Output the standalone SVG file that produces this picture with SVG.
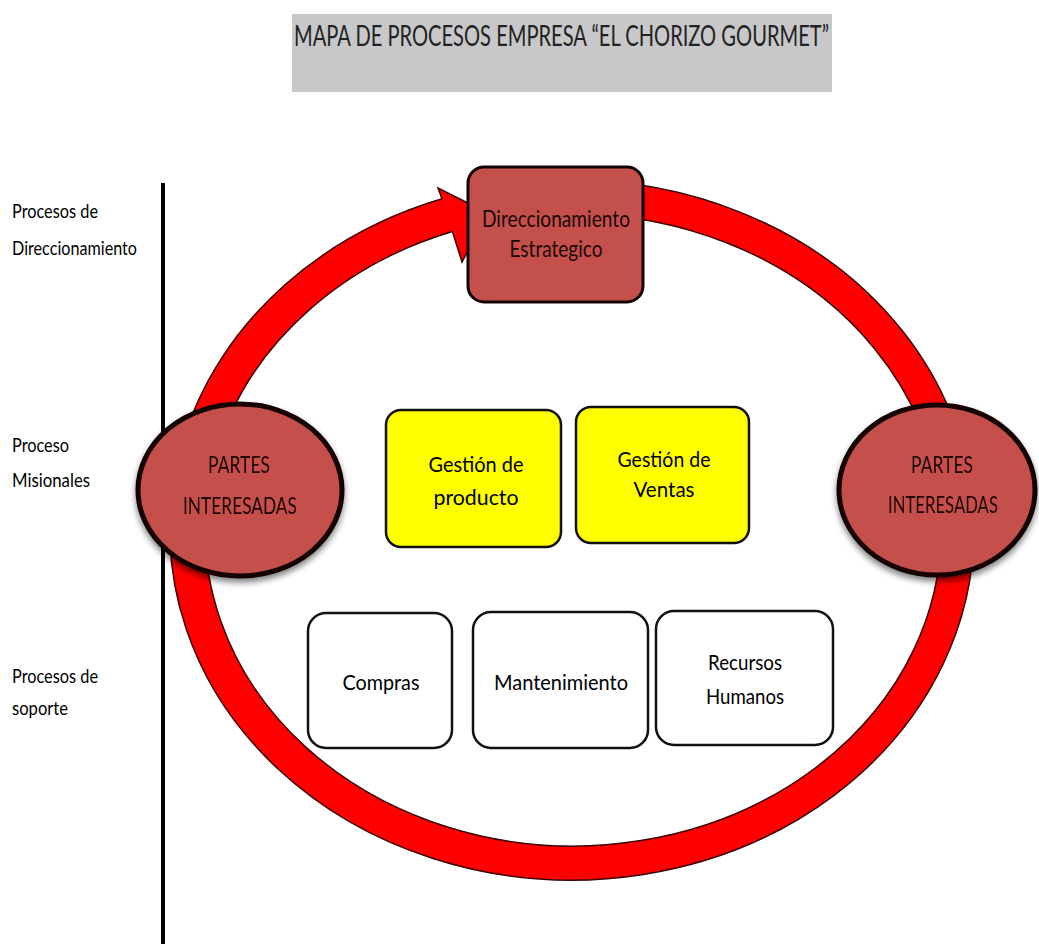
<svg xmlns="http://www.w3.org/2000/svg" width="1039" height="944" viewBox="0 0 1039 944">
  <style>
    .lbl { font-family: Lato, "Liberation Sans", sans-serif; font-size: 19px; fill: #000; }
    .txt { font-family: Lato, "Liberation Sans", sans-serif; font-size: 22px; fill: #000; text-anchor: middle; }
    .rtxt { font-family: Lato, "Liberation Sans", sans-serif; font-size: 23px; fill: #200505; text-anchor: middle; }
    .red { fill: #c4504c; stroke: #120202; }
    .yel { fill: #ffff00; stroke: #111; stroke-width: 2.5; }
    .wht { fill: #ffffff; stroke: #111; stroke-width: 2.5; }
  </style>
  <defs>
    <filter id="shadow" x="-20%" y="-20%" width="140%" height="150%">
      <feGaussianBlur in="SourceAlpha" stdDeviation="3"/>
      <feOffset dx="0" dy="4" result="b"/>
      <feComponentTransfer><feFuncA type="linear" slope="0.5"/></feComponentTransfer>
      <feMerge><feMergeNode/><feMergeNode in="SourceGraphic"/></feMerge>
    </filter>
  </defs>

  <rect width="1039" height="944" fill="#ffffff"/>

  <!-- title banner -->
  <g id="title">
    <rect x="292" y="14" width="540" height="78" fill="#c8c8ca"/>
    <text x="294" y="46" font-family="Lato, 'Liberation Sans', sans-serif" font-size="28" fill="#222" textLength="535" lengthAdjust="spacingAndGlyphs">MAPA DE PROCESOS EMPRESA “EL CHORIZO GOURMET”</text>
  </g>

  <!-- level labels and divider -->
  <g id="levels">
    <line x1="163" y1="183" x2="163" y2="944" stroke="#000" stroke-width="4"/>
    <text class="lbl" x="12" y="218" textLength="86" lengthAdjust="spacingAndGlyphs">Procesos de</text>
    <text class="lbl" x="12" y="255" textLength="125" lengthAdjust="spacingAndGlyphs">Direccionamiento</text>
    <text class="lbl" x="12" y="452" textLength="57" lengthAdjust="spacingAndGlyphs">Proceso</text>
    <text class="lbl" x="12" y="487" textLength="78" lengthAdjust="spacingAndGlyphs">Misionales</text>
    <text class="lbl" x="12" y="683" textLength="86" lengthAdjust="spacingAndGlyphs">Procesos de</text>
    <text class="lbl" x="12" y="715" textLength="56" lengthAdjust="spacingAndGlyphs">soporte</text>
  </g>

  <!-- circular process arrow -->
  <g id="connectors">
    <path d="M 442 198.8 A 402 350 0 1 0 560 180.2 L 560 214.2 A 368 316 0 1 1 452.4 231.5 L 462 262 L 488 213 L 438 188 Z"
          fill="#ff0000" stroke="#3a0000" stroke-width="1.5" stroke-linejoin="miter"/>
  </g>

  <g id="direccionamiento">
    <rect class="red" x="468" y="167" width="175" height="135" rx="16" stroke-width="3"/>
    <text class="rtxt" x="556" y="227" textLength="148" lengthAdjust="spacingAndGlyphs">Direccionamiento</text>
    <text class="rtxt" x="556" y="257" textLength="93" lengthAdjust="spacingAndGlyphs">Estrategico</text>
  </g>

  <g id="partes-izq" filter="url(#shadow)">
    <ellipse class="red" cx="240" cy="490" rx="102" ry="86" stroke-width="5"/>
    <text class="rtxt" x="239" y="473" textLength="62" lengthAdjust="spacingAndGlyphs">PARTES</text>
    <text class="rtxt" x="240" y="514" textLength="114" lengthAdjust="spacingAndGlyphs">INTERESADAS</text>
  </g>

  <g id="partes-der" filter="url(#shadow)">
    <ellipse class="red" cx="937" cy="490" rx="98" ry="85" stroke-width="5"/>
    <text class="rtxt" x="942" y="473" textLength="62" lengthAdjust="spacingAndGlyphs">PARTES</text>
    <text class="rtxt" x="943" y="513" textLength="110" lengthAdjust="spacingAndGlyphs">INTERESADAS</text>
  </g>

  <g id="gestion-producto">
    <rect class="yel" x="386" y="410" width="175" height="137" rx="15"/>
    <text class="txt" x="476" y="472" textLength="95" lengthAdjust="spacingAndGlyphs">Gestión de</text>
    <text class="txt" x="476" y="505" textLength="85" lengthAdjust="spacingAndGlyphs">producto</text>
  </g>

  <g id="gestion-ventas">
    <rect class="yel" x="576" y="407" width="173" height="136" rx="15"/>
    <text class="txt" x="664" y="467" textLength="93" lengthAdjust="spacingAndGlyphs">Gestión de</text>
    <text class="txt" x="664" y="497" textLength="61" lengthAdjust="spacingAndGlyphs">Ventas</text>
  </g>

  <g id="compras">
    <rect class="wht" x="308" y="613" width="144" height="135" rx="18"/>
    <text class="txt" x="381" y="690" textLength="77" lengthAdjust="spacingAndGlyphs">Compras</text>
  </g>

  <g id="mantenimiento">
    <rect class="wht" x="473" y="612" width="175" height="136" rx="18"/>
    <text class="txt" x="561" y="690" textLength="134" lengthAdjust="spacingAndGlyphs">Mantenimiento</text>
  </g>

  <g id="recursos-humanos">
    <rect class="wht" x="656" y="611" width="177" height="134" rx="18"/>
    <text class="txt" x="745" y="670" textLength="74" lengthAdjust="spacingAndGlyphs">Recursos</text>
    <text class="txt" x="745" y="704" textLength="78" lengthAdjust="spacingAndGlyphs">Humanos</text>
  </g>
</svg>
